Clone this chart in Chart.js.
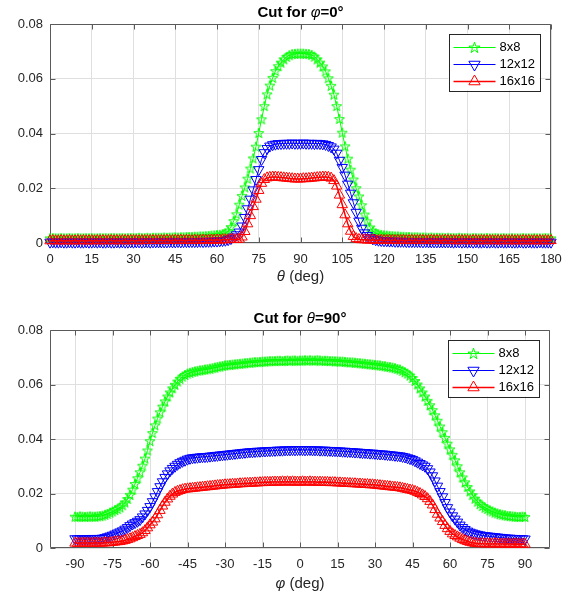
<!DOCTYPE html>
<html><head><meta charset="utf-8">
<script src="https://cdn.jsdelivr.net/npm/chart.js@4.4.0/dist/chart.umd.min.js"></script>
<style>
html,body{margin:0;padding:0;background:#fff;}
#wrap{position:relative;width:573px;height:597px;overflow:hidden;}
canvas{position:absolute;left:0;}
</style></head><body>
<div id="wrap">
<canvas id="c1" width="573" height="295" style="top:0;width:573px;height:295px"></canvas>
<canvas id="c2" width="573" height="302" style="top:295px;width:573px;height:302px"></canvas>
</div>
<script>
// ---------- data ----------
const seriesNames = ['8x8', '12x12', '16x16'];
const yTickValues = [0, 0.02, 0.04, 0.06, 0.08];
const yTickLabels = ['0', '0.02', '0.04', '0.06', '0.08'];
const xTicksTop = [0, 15, 30, 45, 60, 75, 90, 105, 120, 135, 150, 165, 180];
const xTicksBottom = [-90, -75, -60, -45, -30, -15, 0, 15, 30, 45, 60, 75, 90];
// sample grid: theta 0..180 step 1 (top), phi -90..90 step 1 (bottom)
const topStart = 0, topStep = 1;
const bottomStart = -90, bottomStep = 1;

const topGreen = [
0.0017,0.0018,0.0017,0.0017,0.0018,0.0017,0.0017,0.0018,0.0017,0.0017,
0.0018,0.0017,0.0017,0.0018,0.0017,0.0018,0.0017,0.0017,0.0018,0.0017,
0.0018,0.0017,0.0018,0.0018,0.0017,0.0018,0.0018,0.0017,0.0018,0.0018,
0.0018,0.0018,0.0019,0.0018,0.0018,0.0019,0.0018,0.0019,0.0019,0.0019,
0.0019,0.0020,0.0019,0.0020,0.0020,0.0021,0.0020,0.0021,0.0021,0.0022,
0.0022,0.0022,0.0023,0.0023,0.0024,0.0024,0.0025,0.0026,0.0027,0.0028,
0.0029,0.0030,0.0032,0.0036,0.0043,0.0058,0.0080,0.0105,0.0140,0.0172,
0.0203,0.0235,0.0272,0.0309,0.0352,0.0402,0.0452,0.0500,0.0543,0.0575,
0.0603,0.0628,0.0646,0.0659,0.0671,0.0680,0.0686,0.0690,0.0691,0.0692,
0.0692,0.0692,0.0691,0.0690,0.0687,0.0681,0.0671,0.0659,0.0645,0.0627,
0.0602,0.0574,0.0542,0.0500,0.0453,0.0403,0.0353,0.0308,0.0268,0.0232,
0.0200,0.0170,0.0138,0.0104,0.0079,0.0057,0.0043,0.0036,0.0032,0.0030,
0.0028,0.0027,0.0026,0.0025,0.0024,0.0024,0.0023,0.0023,0.0022,0.0022,
0.0021,0.0021,0.0021,0.0020,0.0020,0.0020,0.0019,0.0020,0.0019,0.0019,
0.0019,0.0019,0.0018,0.0019,0.0018,0.0018,0.0018,0.0019,0.0018,0.0018,
0.0018,0.0017,0.0018,0.0018,0.0017,0.0018,0.0017,0.0018,0.0017,0.0017,
0.0018,0.0017,0.0017,0.0018,0.0017,0.0017,0.0018,0.0017,0.0017,0.0017,
0.0018,0.0017,0.0017,0.0017,0.0018,0.0017,0.0017,0.0017,0.0018,0.0017,0.0017];

const topBlue = [
0.0003,0.0004,0.0003,0.0003,0.0004,0.0003,0.0003,0.0004,0.0003,0.0003,
0.0004,0.0003,0.0003,0.0004,0.0003,0.0003,0.0004,0.0003,0.0004,0.0003,
0.0003,0.0004,0.0003,0.0003,0.0004,0.0003,0.0004,0.0003,0.0003,0.0004,
0.0003,0.0004,0.0004,0.0003,0.0004,0.0004,0.0003,0.0004,0.0004,0.0004,
0.0004,0.0004,0.0004,0.0005,0.0004,0.0004,0.0005,0.0004,0.0005,0.0005,
0.0005,0.0005,0.0005,0.0005,0.0006,0.0005,0.0006,0.0006,0.0006,0.0007,
0.0007,0.0008,0.0009,0.0010,0.0012,0.0016,0.0022,0.0030,0.0040,0.0062,
0.0093,0.0125,0.0160,0.0194,0.0232,0.0268,0.0305,0.0330,0.0345,0.0354,
0.0359,0.0361,0.0363,0.0363,0.0364,0.0364,0.0364,0.0365,0.0364,0.0364,
0.0364,0.0365,0.0364,0.0364,0.0364,0.0363,0.0364,0.0363,0.0362,0.0360,
0.0356,0.0351,0.0343,0.0328,0.0302,0.0276,0.0248,0.0215,0.0182,0.0147,
0.0112,0.0080,0.0054,0.0037,0.0027,0.0020,0.0015,0.0012,0.0010,0.0009,
0.0008,0.0008,0.0007,0.0007,0.0006,0.0006,0.0006,0.0006,0.0005,0.0005,
0.0005,0.0005,0.0005,0.0005,0.0004,0.0005,0.0004,0.0004,0.0004,0.0004,
0.0004,0.0004,0.0004,0.0004,0.0004,0.0003,0.0004,0.0004,0.0003,0.0004,
0.0003,0.0004,0.0003,0.0004,0.0003,0.0003,0.0004,0.0003,0.0003,0.0004,
0.0003,0.0003,0.0004,0.0003,0.0003,0.0004,0.0003,0.0003,0.0003,0.0004,
0.0003,0.0003,0.0004,0.0003,0.0003,0.0003,0.0004,0.0003,0.0003,0.0003,0.0003];

const topRed = [
0.0008,0.0009,0.0008,0.0008,0.0009,0.0008,0.0008,0.0009,0.0008,0.0008,
0.0009,0.0008,0.0009,0.0008,0.0008,0.0009,0.0008,0.0009,0.0008,0.0009,
0.0008,0.0009,0.0009,0.0008,0.0009,0.0008,0.0009,0.0009,0.0008,0.0009,
0.0009,0.0009,0.0008,0.0009,0.0009,0.0009,0.0009,0.0009,0.0009,0.0009,
0.0009,0.0009,0.0010,0.0009,0.0009,0.0010,0.0009,0.0010,0.0009,0.0010,
0.0009,0.0009,0.0010,0.0009,0.0010,0.0010,0.0010,0.0010,0.0011,0.0011,
0.0011,0.0011,0.0012,0.0012,0.0012,0.0013,0.0013,0.0013,0.0014,0.0022,
0.0042,0.0070,0.0100,0.0133,0.0160,0.0192,0.0218,0.0232,0.0238,0.0240,
0.0241,0.0241,0.0240,0.0239,0.0238,0.0237,0.0236,0.0235,0.0234,0.0234,
0.0234,0.0235,0.0235,0.0236,0.0237,0.0238,0.0239,0.0240,0.0241,0.0241,
0.0240,0.0237,0.0228,0.0208,0.0175,0.0140,0.0103,0.0070,0.0043,0.0024,
0.0016,0.0013,0.0012,0.0012,0.0011,0.0011,0.0011,0.0010,0.0010,0.0010,
0.0010,0.0009,0.0010,0.0010,0.0009,0.0010,0.0009,0.0010,0.0009,0.0009,
0.0010,0.0009,0.0009,0.0010,0.0009,0.0009,0.0009,0.0010,0.0009,0.0009,
0.0009,0.0009,0.0010,0.0009,0.0009,0.0009,0.0008,0.0009,0.0009,0.0009,
0.0009,0.0008,0.0009,0.0009,0.0008,0.0009,0.0009,0.0008,0.0009,0.0009,
0.0008,0.0009,0.0008,0.0009,0.0009,0.0008,0.0009,0.0008,0.0009,0.0008,
0.0009,0.0008,0.0009,0.0008,0.0009,0.0008,0.0009,0.0008,0.0009,0.0008,0.0009];

const bottomGreen = [
0.0115,0.0114,0.0116,0.0115,0.0114,0.0115,0.0116,0.0115,0.0115,0.0116,
0.0117,0.0119,0.0122,0.0125,0.0130,0.0134,0.0139,0.0143,0.0149,0.0157,
0.0167,0.0180,0.0195,0.0214,0.0235,0.0256,0.0278,0.0302,0.0328,0.0358,
0.0392,0.0422,0.0450,0.0475,0.0498,0.0519,0.0538,0.0556,0.0571,0.0586,
0.0599,0.0611,0.0621,0.0629,0.0635,0.0640,0.0643,0.0646,0.0648,0.0650,
0.0652,0.0653,0.0655,0.0656,0.0658,0.0660,0.0662,0.0664,0.0666,0.0668,
0.0670,0.0671,0.0672,0.0673,0.0674,0.0675,0.0676,0.0677,0.0678,0.0679,
0.0680,0.0681,0.0682,0.0682,0.0683,0.0684,0.0684,0.0685,0.0686,0.0686,
0.0686,0.0687,0.0687,0.0686,0.0687,0.0688,0.0687,0.0688,0.0688,0.0687,
0.0688,0.0688,0.0689,0.0688,0.0689,0.0688,0.0688,0.0689,0.0688,0.0687,
0.0687,0.0687,0.0686,0.0686,0.0685,0.0685,0.0684,0.0684,0.0683,0.0682,
0.0681,0.0681,0.0680,0.0679,0.0678,0.0677,0.0676,0.0675,0.0674,0.0673,
0.0672,0.0671,0.0670,0.0668,0.0667,0.0665,0.0664,0.0662,0.0660,0.0657,
0.0655,0.0650,0.0645,0.0640,0.0633,0.0624,0.0613,0.0600,0.0586,0.0571,
0.0556,0.0540,0.0524,0.0506,0.0487,0.0467,0.0446,0.0425,0.0404,0.0383,
0.0362,0.0342,0.0322,0.0300,0.0278,0.0259,0.0241,0.0224,0.0208,0.0194,
0.0181,0.0170,0.0161,0.0154,0.0148,0.0143,0.0138,0.0134,0.0130,0.0127,
0.0124,0.0122,0.0120,0.0118,0.0117,0.0116,0.0115,0.0114,0.0114,0.0115,0.0114];

const bottomBlue = [
0.0034,0.0033,0.0034,0.0034,0.0033,0.0034,0.0034,0.0035,0.0034,0.0035,
0.0035,0.0036,0.0038,0.0041,0.0044,0.0047,0.0051,0.0055,0.0059,0.0063,
0.0069,0.0075,0.0082,0.0088,0.0093,0.0098,0.0104,0.0114,0.0125,0.0138,
0.0152,0.0170,0.0188,0.0207,0.0225,0.0243,0.0259,0.0272,0.0283,0.0292,
0.0300,0.0307,0.0313,0.0318,0.0322,0.0326,0.0329,0.0331,0.0332,0.0333,
0.0334,0.0335,0.0335,0.0336,0.0337,0.0338,0.0339,0.0340,0.0341,0.0342,
0.0343,0.0344,0.0345,0.0346,0.0347,0.0348,0.0349,0.0350,0.0351,0.0352,
0.0353,0.0353,0.0354,0.0355,0.0355,0.0356,0.0356,0.0357,0.0357,0.0358,
0.0358,0.0359,0.0359,0.0359,0.0360,0.0360,0.0360,0.0361,0.0360,0.0361,
0.0361,0.0361,0.0360,0.0361,0.0361,0.0360,0.0360,0.0360,0.0359,0.0359,
0.0359,0.0358,0.0358,0.0357,0.0357,0.0356,0.0356,0.0355,0.0355,0.0354,
0.0354,0.0353,0.0352,0.0352,0.0351,0.0350,0.0350,0.0349,0.0348,0.0348,
0.0347,0.0346,0.0345,0.0345,0.0344,0.0343,0.0342,0.0341,0.0340,0.0339,
0.0338,0.0336,0.0334,0.0331,0.0328,0.0325,0.0320,0.0315,0.0310,0.0305,
0.0300,0.0291,0.0279,0.0265,0.0246,0.0227,0.0207,0.0188,0.0167,0.0148,
0.0132,0.0118,0.0106,0.0095,0.0084,0.0075,0.0068,0.0062,0.0058,0.0055,
0.0052,0.0050,0.0048,0.0046,0.0045,0.0044,0.0043,0.0042,0.0041,0.0040,
0.0039,0.0038,0.0037,0.0036,0.0036,0.0035,0.0035,0.0034,0.0034,0.0034,0.0033];

const bottomRed = [
0.0018,0.0017,0.0018,0.0018,0.0017,0.0018,0.0018,0.0017,0.0018,0.0018,
0.0018,0.0018,0.0019,0.0019,0.0020,0.0021,0.0022,0.0023,0.0024,0.0026,
0.0028,0.0031,0.0034,0.0038,0.0042,0.0046,0.0050,0.0056,0.0064,0.0074,
0.0085,0.0095,0.0107,0.0122,0.0138,0.0154,0.0168,0.0180,0.0190,0.0198,
0.0204,0.0208,0.0211,0.0214,0.0216,0.0217,0.0218,0.0219,0.0220,0.0221,
0.0222,0.0223,0.0224,0.0225,0.0226,0.0227,0.0228,0.0229,0.0230,0.0231,
0.0232,0.0232,0.0233,0.0234,0.0234,0.0235,0.0236,0.0236,0.0237,0.0237,
0.0238,0.0238,0.0239,0.0239,0.0240,0.0240,0.0241,0.0241,0.0241,0.0242,
0.0242,0.0242,0.0242,0.0243,0.0242,0.0243,0.0242,0.0243,0.0242,0.0242,
0.0242,0.0243,0.0242,0.0242,0.0243,0.0242,0.0242,0.0241,0.0242,0.0241,
0.0241,0.0241,0.0240,0.0240,0.0240,0.0239,0.0239,0.0238,0.0238,0.0237,
0.0237,0.0236,0.0236,0.0235,0.0235,0.0234,0.0233,0.0233,0.0232,0.0232,
0.0231,0.0230,0.0229,0.0228,0.0227,0.0226,0.0225,0.0224,0.0223,0.0222,
0.0221,0.0219,0.0217,0.0215,0.0213,0.0211,0.0208,0.0204,0.0200,0.0195,
0.0189,0.0181,0.0171,0.0158,0.0141,0.0124,0.0110,0.0097,0.0083,0.0071,
0.0061,0.0052,0.0046,0.0041,0.0036,0.0031,0.0027,0.0024,0.0021,0.0019,
0.0017,0.0016,0.0016,0.0016,0.0015,0.0016,0.0015,0.0015,0.0016,0.0015,
0.0015,0.0015,0.0014,0.0015,0.0015,0.0014,0.0015,0.0014,0.0015,0.0014,0.0014];

// ---------- styling ----------
const FONT = "'Liberation Sans', Arial, Helvetica, sans-serif";
const GREEN = '#00ff00', BLUE = '#0000ff', RED = '#ff0000';
const AXIS = '#262626', GRID = '#dfdfdf', BOX = '#5a5a5a';

function makeStar(color, size) {
  const c = document.createElement('canvas');
  c.width = size; c.height = size;
  const g = c.getContext('2d');
  const cx = size / 2, cy = size / 2 + 0.4, R = size / 2 - 0.7, r = R * 0.382;
  g.beginPath();
  for (let k = 0; k < 10; k++) {
    const ang = -Math.PI / 2 + k * Math.PI / 5;
    const rad = (k % 2) ? r : R;
    const px = cx + rad * Math.cos(ang), py = cy + rad * Math.sin(ang);
    if (k === 0) g.moveTo(px, py); else g.lineTo(px, py);
  }
  g.closePath();
  g.strokeStyle = color; g.lineWidth = 1; g.stroke();
  return c;
}
const starPlot = makeStar(GREEN, 12);
const starLegend = makeStar(GREEN, 13);

function toXY(start, step, arr) {
  return arr.map((v, i) => ({ x: start + i * step, y: v }));
}

const decor = {
  id: 'decor',
  beforeDatasetsDraw(chart) {
    const o = chart.options.plugins.decor;
    const ctx = chart.ctx, a = chart.chartArea;
    const xs = chart.scales.x, ys = chart.scales.y;
    ctx.save();
    ctx.strokeStyle = BOX; ctx.lineWidth = 1;
    const L = Math.round(a.left) + 0.5, R = Math.round(a.right) - 0.5;
    const T = Math.round(a.top) + 0.5, B = Math.round(a.bottom) - 0.5;
    ctx.beginPath();
    ctx.rect(L, T, R - L, B - T);
    o.xTicks.forEach(v => {
      const px = Math.round(xs.getPixelForValue(v)) + 0.5;
      ctx.moveTo(px, B); ctx.lineTo(px, B - 5);
      ctx.moveTo(px, T); ctx.lineTo(px, T + 5);
    });
    yTickValues.forEach(v => {
      const py = Math.round(ys.getPixelForValue(v)) + 0.5;
      ctx.moveTo(L, py); ctx.lineTo(L + 5, py);
      ctx.moveTo(R, py); ctx.lineTo(R - 5, py);
    });
    ctx.stroke();
    ctx.restore();
  },
  afterDraw(chart) {
    const o = chart.options.plugins.decor;
    const ctx = chart.ctx, a = chart.chartArea;
    const cx = (a.left + a.right) / 2;
    ctx.save();
    ctx.textBaseline = 'middle';
    ctx.fillStyle = '#000';
    drawRuns(ctx, o.title, cx, o.titleY);
    ctx.fillStyle = AXIS;
    drawRuns(ctx, o.xlabel, cx, o.xlabelY);
    // legend
    const bx = a.right - 102.5, by = a.top + 9.5, bw = 91, bh = 57;
    ctx.fillStyle = '#fff';
    ctx.fillRect(bx, by, bw, bh);
    ctx.strokeStyle = AXIS; ctx.lineWidth = 1;
    ctx.strokeRect(Math.round(bx) + 0.5, Math.round(by) + 0.5, bw, bh);
    const rows = [13.5, 30.5, 47.5];
    chart.data.datasets.forEach((d, i) => {
      const y = Math.round(by + rows[i]) + 0.5;
      ctx.strokeStyle = d.borderColor; ctx.lineWidth = d.borderWidth;
      ctx.beginPath(); ctx.moveTo(bx + 5, y); ctx.lineTo(bx + 47, y); ctx.stroke();
      ctx.lineWidth = 1;
      ctx.fillStyle = 'rgba(0,0,0,0)';
      ctx.strokeStyle = d.borderColor;
      Chart.helpers.drawPoint(ctx, {
        pointStyle: d.legendStyle, radius: 6.5, rotation: d.pointRotation || 0, borderWidth: 1
      }, bx + 26, y);
      ctx.fillStyle = '#000';
      ctx.font = '13px ' + FONT;
      ctx.textAlign = 'left';
      ctx.fillText(d.label, bx + 51, y);
    });
    ctx.restore();
  }
};

function drawRuns(ctx, runs, cx, y) {
  let total = 0;
  runs.forEach(r => { ctx.font = r.f; total += ctx.measureText(r.t).width; });
  let x = cx - total / 2;
  ctx.textAlign = 'left';
  runs.forEach(r => { ctx.font = r.f; ctx.fillText(r.t, x, y); x += ctx.measureText(r.t).width; });
}

function makeChart(id, o) {
  const common = {
    borderWidth: 1, pointBorderWidth: 1, pointBackgroundColor: 'rgba(0,0,0,0)',
    fill: false, tension: 0, clip: false, pointHoverRadius: 6, pointHitRadius: 0
  };
  const datasets = [
    Object.assign({}, common, { label: seriesNames[0], data: toXY(o.start, o.step, o.green),
      borderColor: GREEN, pointBorderColor: GREEN, pointStyle: starPlot, legendStyle: starLegend,
      pointRadius: 6, order: 3 }),
    Object.assign({}, common, { label: seriesNames[1], data: toXY(o.start, o.step, o.blue),
      borderColor: BLUE, pointBorderColor: BLUE, pointStyle: 'triangle', legendStyle: 'triangle',
      pointRotation: 180, pointRadius: 6, order: 2 }),
    Object.assign({}, common, { label: seriesNames[2], data: toXY(o.start, o.step, o.red),
      borderColor: RED, pointBorderColor: RED, pointStyle: 'triangle', legendStyle: 'triangle',
      pointRotation: 0, pointRadius: 6, borderWidth: 1.5, order: 1 })
  ];
  return new Chart(document.getElementById(id), {
    type: 'line',
    data: { datasets },
    plugins: [decor],
    options: {
      responsive: false, animation: false, devicePixelRatio: 1,
      events: [],
      layout: { autoPadding: false, padding: { top: o.padTop, right: o.padRight, left: 0, bottom: 0 } },
      plugins: {
        legend: { display: false }, title: { display: false }, tooltip: { enabled: false },
        decor: { xTicks: o.xTicks, title: o.title, titleY: o.titleY, xlabel: o.xlabel, xlabelY: o.xlabelY }
      },
      scales: {
        x: {
          type: 'linear', min: o.xMin, max: o.xMax,
          afterBuildTicks: s => { s.ticks = o.xTicks.map(v => ({ value: v })); },
          afterFit: s => { s.height = o.xAxisH; },
          grid: { color: GRID, lineWidth: 1, drawTicks: false },
          border: { display: false },
          ticks: { padding: 9, color: AXIS, font: { family: FONT, size: 13 }, autoSkip: false,
                   maxRotation: 0, callback: v => String(v) }
        },
        y: {
          type: 'linear', min: 0, max: 0.08,
          afterBuildTicks: s => { s.ticks = yTickValues.map(v => ({ value: v })); },
          afterFit: s => { s.width = 50; },
          grid: { color: GRID, lineWidth: 1, drawTicks: false },
          border: { display: false },
          ticks: { padding: 7, color: AXIS, font: { family: FONT, size: 13 },
                   callback: (v, i) => yTickLabels[i] }
        }
      }
    }
  });
}

const B15 = 'bold 15px ' + FONT, I15 = 'italic 15px ' + FONT, N15 = '15px ' + FONT;

makeChart('c1', {
  start: topStart, step: topStep, green: topGreen, blue: topBlue, red: topRed,
  xMin: 0, xMax: 180, xTicks: xTicksTop, padTop: 24, padRight: 22, xAxisH: 52,
  title: [{ t: 'Cut for ', f: B15 }, { t: 'φ', f: I15 }, { t: '=0°', f: B15 }], titleY: 12.5,
  xlabel: [{ t: 'θ', f: I15 }, { t: ' (deg)', f: N15 }], xlabelY: 277
});
makeChart('c2', {
  start: bottomStart, step: bottomStep, green: bottomGreen, blue: bottomBlue, red: bottomRed,
  xMin: -100, xMax: 100, xTicks: xTicksBottom, padTop: 35, padRight: 23, xAxisH: 49,
  title: [{ t: 'Cut for ', f: B15 }, { t: 'θ', f: I15 }, { t: '=90°', f: B15 }], titleY: 23.5,
  xlabel: [{ t: 'φ', f: I15 }, { t: ' (deg)', f: N15 }], xlabelY: 289
});
</script>
</body></html>
